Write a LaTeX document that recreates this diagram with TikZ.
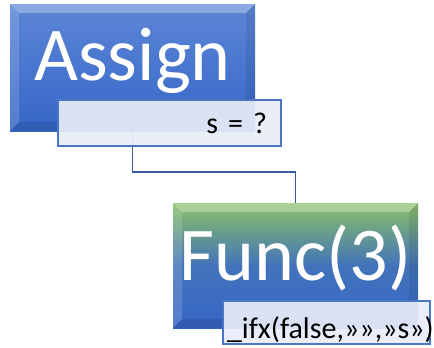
\documentclass[tikz,border=0pt]{standalone}
\usepackage{fontspec}
\setmainfont{Carlito}
\usepackage{tikz}
\usetikzlibrary{positioning,calc,backgrounds}
\definecolor{box-top}{RGB}{92,134,214}
\definecolor{box-bot}{RGB}{54,102,200}
\definecolor{func-top}{RGB}{138,192,104}
\definecolor{sub-fill}{RGB}{232,237,248}
\definecolor{sub-line}{RGB}{74,118,196}
\definecolor{link-col}{RGB}{60,92,160}
\DeclareRobustCommand\subfont{\fontsize{30}{30}\selectfont\spaceskip=4.5pt\relax}

\begin{document}
\begin{tikzpicture}[x=1pt, y=-1pt,
    bigbox/.style={rectangle, minimum width=245pt, inner sep=0pt, text=white,
      font=\fontsize{76}{76}\selectfont, text height=48pt,
      path picture={
        \coordinate (nw) at (path picture bounding box.north west);
        \coordinate (se) at (path picture bounding box.south east);
        \fill[white, opacity=0.30] (nw) -- (nw -| se) -- ++(-9pt,-9pt) -- ($(nw)+(9pt,-9pt)$) -- cycle;
        \fill[white, opacity=0.15] (nw) -- ($(nw)+(9pt,-9pt)$) -- ($(nw |- se)+(9pt,9pt)$) -- (nw |- se) -- cycle;
        \fill[black, opacity=0.08] (se) -- (se |- nw) -- ++(-9pt,-9pt) -- ($(se)+(-9pt,9pt)$) -- cycle;
        \fill[black, opacity=0.10] (se) -- ($(se)+(-9pt,9pt)$) -- ($(se -| nw)+(9pt,9pt)$) -- (se -| nw) -- cycle;
      }},
    subbox/.style={rectangle, draw=sub-line, line width=1.1pt, fill=sub-fill, fill opacity=0.92,
      text opacity=1, text=black, font=\subfont, inner ysep=0pt},
    link/.style={draw=link-col, line width=1.8pt}]

    \useasboundingbox (0,0) rectangle (434,348);

    % Assign
    \node[bigbox, minimum height=127pt, text depth=23pt, top color=box-top, bottom color=box-bot]
      (assign) at (132.5,67.5) {Assign};
    \node[subbox, minimum width=223pt, minimum height=46pt, text width=195pt, inner xsep=14pt,
      align=right, text height=20pt, text depth=0pt] (assignsub) at (169.5,123) {s = ?};

    % Func
    \node[bigbox, minimum height=125pt, text depth=19pt, top color=func-top, bottom color=box-bot,
      middle color=box-bot!85!func-top] (func) at (295.5,265.5) {Func(3)};
    \node[subbox, minimum width=207pt, minimum height=43pt, text width=199pt, inner xsep=4pt,
      align=left, text height=31pt, text depth=0pt] (funcsub) at (326.5,322.5) {\_ifx(false,»»,»s»)};

    % Connector
    \begin{scope}[on background layer]
      \draw[link] (assign.south) |- ([yshift=31pt]func.north) -- (func.north);
    \end{scope}
\end{tikzpicture}
\end{document}
